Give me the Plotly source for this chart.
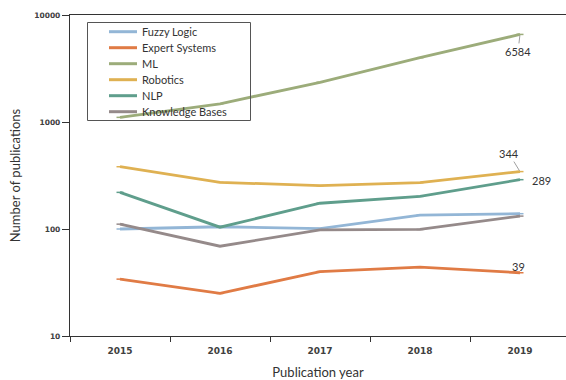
import math
import plotly.graph_objects as go

years = ["2015", "2016", "2017", "2018", "2019"]

fuzzy_logic = [100, 105, 101, 135, 139]
expert_systems = [34, 25, 40, 44, 39]
ml = [1105, 1480, 2350, 3990, 6584]
robotics = [382, 273, 254, 271, 344]
nlp = [220, 104, 174, 202, 289]
knowledge_bases = [111, 69, 98, 99, 132]

series = [
    ("Fuzzy Logic", fuzzy_logic, "#93b6d6"),
    ("Expert Systems", expert_systems, "#e07b45"),
    ("ML", ml, "#9cac7a"),
    ("Robotics", robotics, "#dfb152"),
    ("NLP", nlp, "#5f9e8c"),
    ("Knowledge Bases", knowledge_bases, "#958a8a"),
]

W, H = 566, 380
ML_, MR, MT, MB = 70, 0, 15, 44
PW, PH = W - ML_ - MR, H - MT - MB


def px_x(px):
    return (px - ML_) / PW


def px_y(py):
    return (H - MB - py) / PH


fig = go.Figure()
for name, vals, color in series:
    fig.add_trace(go.Scatter(
        x=years, y=vals, name=name, mode="lines+markers", showlegend=False,
        line=dict(color=color, width=2.8),
        marker=dict(symbol="line-ew-open", size=5, color=color,
                    line=dict(color=color, width=1.5)),
    ))

# Legend box: line sample + label per series
legend_font = dict(family="Lato", size=11, color="#333333")
fig.add_shape(type="rect", xref="paper", yref="paper",
              x0=px_x(87.5), x1=px_x(250.5), y0=px_y(120.5), y1=px_y(22.5),
              line=dict(color="#555555", width=1), fillcolor="rgba(0,0,0,0)",
              layer="above")
for i, (name, vals, color) in enumerate(series):
    yc = px_y(31.7 + 16 * i)
    fig.add_shape(type="line", xref="paper", yref="paper",
                  x0=px_x(109), x1=px_x(137), y0=yc, y1=yc,
                  line=dict(color=color, width=3), layer="above")
    fig.add_annotation(xref="paper", yref="paper", x=px_x(140), y=yc,
                       xanchor="left", yanchor="middle", text=name,
                       showarrow=False, font=legend_font)

last = len(years) - 1
label_font = dict(family="Lato", size=11, color="#333333")
# value callouts on the 2019 points (log axis -> positions in log10 units)
fig.add_annotation(x=last, y=math.log10(ml[-1]), text=str(ml[-1]), showarrow=True,
                   arrowhead=0, arrowwidth=1, arrowcolor="#a0a0a0",
                   ax=-2, ay=17, font=label_font, standoff=1)
fig.add_annotation(x=last, y=math.log10(robotics[-1]), text=str(robotics[-1]),
                   showarrow=True, arrowhead=0, arrowwidth=1, arrowcolor="#a0a0a0",
                   ax=-11, ay=-18, font=label_font, standoff=1)
fig.add_annotation(x=last, y=math.log10(nlp[-1]), text=str(nlp[-1]), showarrow=False,
                   xshift=21, yshift=-1, font=label_font)
fig.add_annotation(x=last, y=math.log10(expert_systems[-1]), text=str(expert_systems[-1]),
                   showarrow=False, xshift=-2, yshift=6, font=label_font)

axis_color = "#333333"
fig.update_layout(
    width=W, height=H,
    margin=dict(l=ML_, r=MR, t=MT, b=MB),
    paper_bgcolor="white", plot_bgcolor="white",
    showlegend=False,
    xaxis=dict(
        type="category", range=[-0.5, 4.46],
        showline=True, linecolor=axis_color, linewidth=1.3, mirror=True,
        ticks="outside", tickson="boundaries", ticklen=5, tickcolor=axis_color,
        showgrid=False, ticklabelstandoff=6,
        tickfont=dict(family="DejaVu Sans", size=9, color="#404040", weight="bold"),
        title=dict(text="Publication year", standoff=14,
                   font=dict(family="Lato", size=13, color="#333333")),
    ),
    yaxis=dict(
        type="log", range=[1, 4],
        tickvals=[10, 100, 1000, 10000], ticktext=["10", "100", "1000", "10000"],
        showline=True, linecolor=axis_color, linewidth=1.3,
        ticks="outside", ticklen=7, tickcolor=axis_color,
        showgrid=False, zeroline=False,
        tickfont=dict(family="DejaVu Sans", size=7.5, color="#404040", weight="bold"),
        title=dict(text="Number of publications", standoff=10,
                   font=dict(family="Lato", size=13, color="#333333")),
    ),
)

fig.write_html("out.html")
